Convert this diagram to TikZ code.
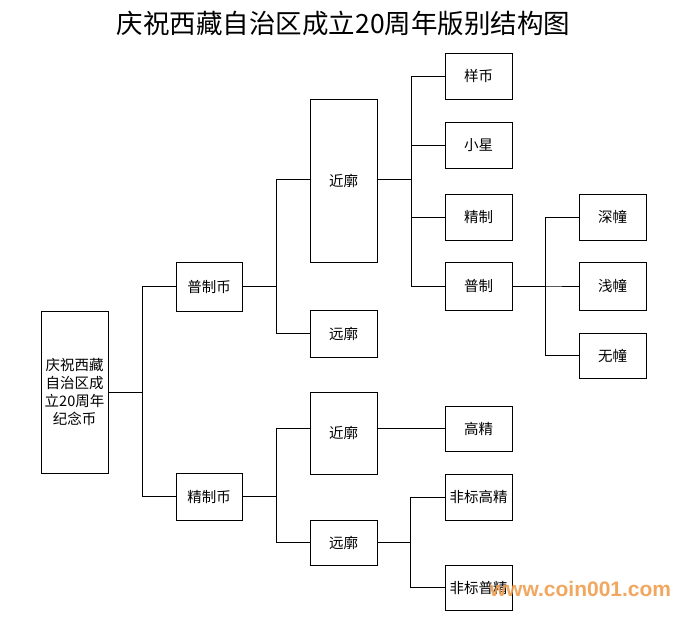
\documentclass[tikz,border=0pt]{standalone}
\usepackage{fontspec}
\newfontfamily\cjk{Noto Sans CJK SC}
\newfontfamily\wmfont{Liberation Sans}
\definecolor{wmorange}{RGB}{240,158,78}
\begin{document}
\begin{tikzpicture}[x=1pt,y=-1pt,
  box/.style={draw=black,line width=0.9pt,minimum width=67pt,minimum height=47pt,inner sep=0pt,
    font=\cjk\fontsize{14.5}{18.3}\selectfont,align=center},
  link/.style={draw=black,line width=0.9pt}]
\useasboundingbox[fill=white] (0,0) rectangle (687,617);
\node[font=\cjk\fontsize{26.5}{29}\selectfont] (title) at (343.5,23) {庆祝西藏自治区成立20周年版别结构图};
% level 0
\node[box,minimum height=162pt] (root) at (74.5,392) {庆祝西藏\\自治区成\\立20周年\\纪念币};
% level 1
\node[box,minimum width=66pt,minimum height=49pt] (pu) at (209,286.5) {普制币};
\node[box,minimum width=66pt] (jz) at (209,496.5) {精制币};
% level 2
\node[box,minimum height=163pt] (jk1) at (343.5,180.5) {近廓};
\node[box] (yk1) at (343.5,333.5) {远廓};
\node[box,minimum height=82pt] (jk2) at (343.5,433) {近廓};
\node[box,minimum height=45pt] (yk2) at (343.5,542.5) {远廓};
% level 3
\node[box,minimum height=46pt] (yb) at (478.5,76) {样币};
\node[box,minimum height=46pt] (xx) at (478.5,145) {小星};
\node[box,minimum height=46pt] (jzh) at (478.5,217) {精制};
\node[box,minimum height=48pt] (pzh) at (478.5,286) {普制};
\node[box,minimum height=45pt] (gj) at (478.5,428.5) {高精};
\node[box,minimum height=46pt] (fbg) at (478.5,497) {非标高精};
\node[box,minimum height=45pt] (fbp) at (478.5,587.5) {非标普精};
% level 4
\node[box,minimum height=46pt] (sc) at (612.5,217) {深幢};
\node[box,minimum height=48pt] (qc) at (612.5,286) {浅幢};
\node[box,minimum height=45pt] (wc) at (612.5,355.5) {无幢};
% connectors
\draw[link] (root.east) -- ++(34,0) |- (pu.west);
\draw[link] (root.east) -- ++(34,0) |- (jz.west);
\draw[link] (pu.east) -- ++(34,0) |- ([yshift=1.5pt]jk1.west);
\draw[link] (pu.east) -- ++(34,0) |- (yk1.west);
\draw[link] ([yshift=1.5pt]jk1.east) -- ++(34,0) |- (yb.west);
\draw[link] ([yshift=1.5pt]jk1.east) -- ++(34,0) |- (xx.west);
\draw[link] ([yshift=1.5pt]jk1.east) -- ++(34,0) |- (jzh.west);
\draw[link] ([yshift=1.5pt]jk1.east) -- ++(34,0) |- (pzh.west);
\draw[link] (pzh.east) -- ++(33,0) |- (sc.west);
\draw[link] (pzh.east) -- ++(33,0) |- (qc.west);
\draw[link] (pzh.east) -- ++(33,0) |- (wc.west);
\draw[link] (jz.east) -- ++(34,0) |- (jk2.west |- gj.west);
\draw[link] (jz.east) -- ++(34,0) |- (yk2.west);
\draw[link] (jk2.east |- gj.west) -- (gj.west);
\draw[link] (yk2.east) -- ++(33,0) |- (fbg.west);
\draw[link] (yk2.east) -- ++(33,0) |- (fbp.west);
% watermark
\node[text=wmorange,opacity=0.9,font=\wmfont\bfseries\fontsize{21}{23}\selectfont,inner sep=0pt] (wm) at (580.5,589) {www.coin001.com};
\end{tikzpicture}
\end{document}
